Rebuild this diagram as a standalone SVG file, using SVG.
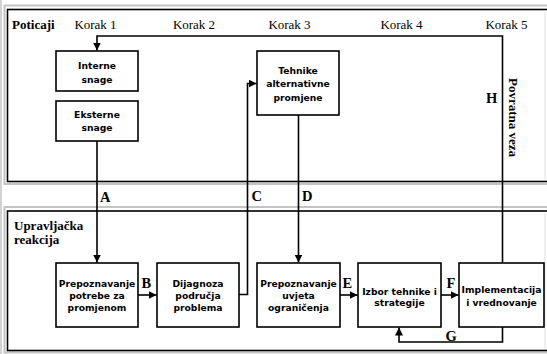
<svg xmlns="http://www.w3.org/2000/svg" width="547" height="354" viewBox="0 0 547 354">
<style>
.box{fill:#fff;stroke:#000;stroke-width:1.6}
.bt{font-family:"DejaVu Sans",Verdana,sans-serif;font-weight:bold;font-size:9.2px;text-anchor:middle;fill:#000}
.st{font-family:"Liberation Serif","Times New Roman",serif;font-size:13px;fill:#000}
.sb{font-family:"Liberation Serif","Times New Roman",serif;font-weight:bold;font-size:13px;fill:#000}
.lb{font-family:"Liberation Serif","Times New Roman",serif;font-weight:bold;font-size:14.5px;fill:#000}
.ln{fill:none;stroke:#000;stroke-width:1.6}
.frame{fill:none;stroke:#000;stroke-width:1.6}
.shade{fill:none;stroke:#c4c4c4;stroke-width:2}
</style>
<defs>
<marker id="ah" markerUnits="userSpaceOnUse" markerWidth="9" markerHeight="9" refX="8" refY="4" orient="auto">
<path d="M0,0 L8,4 L0,8 z" fill="#000"/>
</marker>
</defs>
<rect x="0" y="0" width="547" height="354" fill="#fff"/>
<rect x="0" y="0" width="2" height="354" fill="#d2d2d2"/>
<g id="panel-top">
<rect class="shade" x="4.5" y="5.5" width="560" height="178.5"/>
<rect class="frame" x="7.5" y="9.5" width="560" height="172"/>
<line x1="545" y1="12" x2="545" y2="180" stroke="#e6e6e6" stroke-width="1.2"/>
<text class="sb" x="12" y="29">Poticaji</text>
<text class="st" x="95.5" y="29" text-anchor="middle">Korak 1</text>
<text class="st" x="194" y="29" text-anchor="middle">Korak 2</text>
<text class="st" x="289.5" y="29" text-anchor="middle">Korak 3</text>
<text class="st" x="401.5" y="29" text-anchor="middle">Korak 4</text>
<text class="st" x="506.5" y="29" text-anchor="middle">Korak 5</text>
<text class="sb" x="0" y="0" transform="translate(509,78) rotate(90)">Povratna veza</text>
</g>
<g id="panel-bottom">
<rect class="shade" x="4.5" y="207" width="560" height="145.5"/>
<rect class="frame" x="7.5" y="211" width="560" height="139.5"/>
<line x1="545" y1="213" x2="545" y2="349" stroke="#e6e6e6" stroke-width="1.2"/>
<text class="sb" x="14" y="230">Upravljačka</text>
<text class="sb" x="14" y="244">reakcija</text>
</g>
<g id="connectors">
<path class="ln" d="M502.5,263 V36 H97 V50.5" marker-end="url(#ah)"/>
<path class="ln" d="M97,141 V262.5" marker-end="url(#ah)"/>
<path class="ln" d="M138,295 H156.5" marker-end="url(#ah)"/>
<path class="ln" d="M239,294.5 H247.5 V83.5 H256.5" marker-end="url(#ah)"/>
<path class="ln" d="M298.5,115 V262.5" marker-end="url(#ah)"/>
<path class="ln" d="M340,295 H357.5" marker-end="url(#ah)"/>
<path class="ln" d="M441,295 H458.5" marker-end="url(#ah)"/>
<path class="ln" d="M502.5,327 V342 H399 V327.5" marker-end="url(#ah)"/>
<text class="lb" x="100" y="202">A</text>
<text class="lb" x="141.5" y="288">B</text>
<text class="lb" x="251.5" y="201">C</text>
<text class="lb" x="302" y="201">D</text>
<text class="lb" x="342.5" y="288">E</text>
<text class="lb" x="446.5" y="288">F</text>
<text class="lb" x="445.5" y="341">G</text>
<text class="lb" x="486" y="103">H</text>
</g>
<g id="interne">
<rect class="box" x="56" y="51" width="82" height="40"/>
<text class="bt" x="97" y="68.5">Interne</text>
<text class="bt" x="97" y="82.5">snage</text>
</g>
<g id="eksterne">
<rect class="box" x="56" y="101" width="82" height="40"/>
<text class="bt" x="97" y="118.3">Eksterne</text>
<text class="bt" x="97" y="131">snage</text>
</g>
<g id="tehnike">
<rect class="box" x="257" y="51" width="82" height="64"/>
<text class="bt" x="298" y="74.3">Tehnike</text>
<text class="bt" x="298" y="86.8">alternativne</text>
<text class="bt" x="298" y="100.5">promjene</text>
</g>
<g id="prepoznavanje-potrebe">
<rect class="box" x="56" y="263" width="82" height="64"/>
<text class="bt" x="97" y="286.6">Prepoznavanje</text>
<text class="bt" x="97" y="298.6">potrebe za</text>
<text class="bt" x="97" y="310.6">promjenom</text>
</g>
<g id="dijagnoza">
<rect class="box" x="157" y="263" width="82" height="64"/>
<text class="bt" x="198" y="286.6">Dijagnoza</text>
<text class="bt" x="198" y="298.6">područja</text>
<text class="bt" x="198" y="310.6">problema</text>
</g>
<g id="prepoznavanje-uvjeta">
<rect class="box" x="257" y="263" width="83" height="64"/>
<text class="bt" x="298.5" y="286.6">Prepoznavanje</text>
<text class="bt" x="298.5" y="298.6">uvjeta</text>
<text class="bt" x="298.5" y="310.6">ograničenja</text>
</g>
<g id="izbor">
<rect class="box" x="358" y="263" width="83" height="64"/>
<text class="bt" x="399.5" y="295">Izbor tehnike i</text>
<text class="bt" x="399.5" y="306">strategije</text>
</g>
<g id="implementacija">
<rect class="box" x="459" y="263" width="85" height="64"/>
<text class="bt" x="501.5" y="293.3">Implementacija</text>
<text class="bt" x="501.5" y="305.6">i vrednovanje</text>
</g>
</svg>
